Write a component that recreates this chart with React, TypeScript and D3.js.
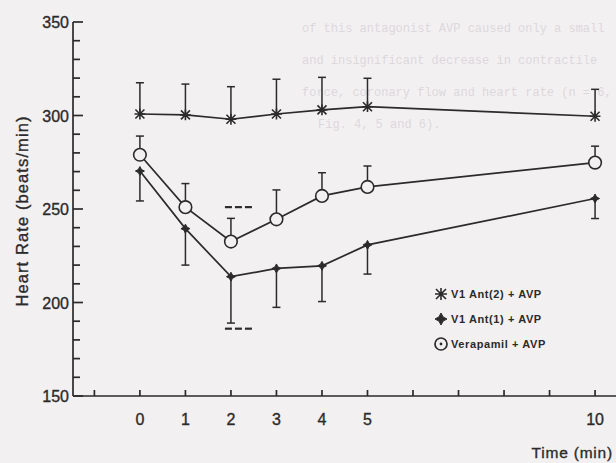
import React from "react";
import * as d3 from "d3";

const times = [0, 1, 2, 3, 4, 5, 10];
const ant2 = [300.8, 300.3, 298, 300.8, 303, 304.7, 299.6];
const ant2Err = [16.7, 16.5, 17.4, 18.6, 17.4, 15.2, 14.4];
const ant1 = [270.3, 239.5, 213.8, 218.2, 219.6, 230.8, 255.6];
const ant1Err = [16, 19.5, 24.8, 20.8, 19.1, 15.6, 10.7];
const verap = [279, 251, 232.6, 244.5, 257, 261.8, 274.8];
const verapErr = [10, 12.6, 12.4, 15.7, 12.4, 11.2, 8.8];
const xTicks = [-1, 0, 1, 2, 3, 4, 5, 6, 7, 8, 9, 10];
const xLabels = [0, 1, 2, 3, 4, 5, 10];
const yMajor = [150, 200, 250, 300, 350];
const yMinor = d3.range(150, 351, 10);
const legendLabels = ["V1 Ant(2) + AVP", "V1 Ant(1) + AVP", "Verapamil + AVP"];
const sigUpper = 251;
const sigLower = 186;
const sigTime = 2;
const bleedLines = [
  "of this antagonist AVP caused only a small",
  "and insignificant decrease in contractile",
  "force, coronary flow and heart rate (n = 6,",
  "Fig. 4, 5 and 6).",
];

const W = 616, H = 463;
const INK = "#2b2b2b";
const BG = "#f3f0f2";
const SANS = "Liberation Sans, Arial, sans-serif";

function starPath(cx: number, cy: number, s: number) {
  return `M${cx - s},${cy - s}L${cx + s},${cy + s}M${cx - s},${cy + s}L${cx + s},${cy - s}M${cx},${cy - s * 1.2}L${cx},${cy + s * 1.2}M${cx - s * 1.2},${cy}L${cx + s * 1.2},${cy}`;
}
function sparkPath(cx: number, cy: number, s: number) {
  const t = s * 0.35;
  return `M${cx},${cy - s}L${cx + t},${cy - t}L${cx + s},${cy}L${cx + t},${cy + t}L${cx},${cy + s}L${cx - t},${cy + t}L${cx - s},${cy}L${cx - t},${cy - t}Z`;
}

export default function App() {
  const x = d3.scaleLinear().domain([-1.47, 10.46]).range([73, 616]);
  const y = d3.scaleLinear().domain([150, 350]).range([396, 22]);
  const line = d3
    .line<number>()
    .x((_, i) => x(times[i]))
    .y((d) => y(d));

  const cap = 4;
  const dashes = (cy: number) => {
    const x0 = x(sigTime) - 6;
    return [0, 1, 2].map((k) => (
      <line key={k} x1={x0 + k * 10} x2={x0 + k * 10 + 7} y1={cy} y2={cy} stroke={INK} strokeWidth={2.2} />
    ));
  };

  return (
    <svg width={W} height={H} style={{ position: "absolute", left: 0, top: 0, background: BG }}>
      <rect width={W} height={H} fill={BG} />
      <g fontFamily="Liberation Mono, DejaVu Sans Mono, monospace" fontSize={12} fill="#dcd8dc">
        {bleedLines.map((t, i) => (
          <text key={i} x={i === 3 ? 318 : 302} y={32 + i * 32}>
            {t}
          </text>
        ))}
      </g>

      <g stroke={INK} strokeWidth={1.7} fill="none">
        <line x1={x.range()[0]} x2={x.range()[0]} y1={y(350)} y2={y(150)} />
        <line x1={x.range()[0]} x2={W} y1={y(150)} y2={y(150)} />
        {yMinor.map((v) => (
          <line key={v} x1={x.range()[0]} x2={x.range()[0] + (v % 50 === 0 ? 10 : 7)} y1={y(v)} y2={y(v)} />
        ))}
        {xTicks.map((t) => (
          <line key={t} x1={x(t)} x2={x(t)} y1={y(150)} y2={y(150) - 6} />
        ))}
      </g>
      <g fontFamily={SANS} fontSize={16} fill={INK} stroke={INK} strokeWidth={0.35}>
        {yMajor.map((v) => (
          <text key={v} x={x.range()[0] - 4} y={y(v) + 6} textAnchor="end">
            {v}
          </text>
        ))}
        {xLabels.map((t) => (
          <text key={t} x={x(t)} y={y(150) + 29} textAnchor="middle">
            {t}
          </text>
        ))}
        <text x={613} y={458} textAnchor="end" fontSize={15.5} letterSpacing={0.8}>Time (min)</text>
        <text
          transform={`translate(28,${211}) rotate(-90)`}
          textAnchor="middle"
          fontSize={16.5}
          letterSpacing={1.1}
        >
          Heart Rate (beats/min)
        </text>
      </g>

      <g stroke={INK} strokeWidth={1.5}>
        {times.map((t, i) => (
          <g key={"e2" + i}>
            <line x1={x(t)} x2={x(t)} y1={y(ant2[i])} y2={y(ant2[i] + ant2Err[i])} />
            <line x1={x(t) - cap} x2={x(t) + cap} y1={y(ant2[i] + ant2Err[i])} y2={y(ant2[i] + ant2Err[i])} />
            <line x1={x(t)} x2={x(t)} y1={y(verap[i])} y2={y(verap[i] + verapErr[i])} />
            <line x1={x(t) - cap} x2={x(t) + cap} y1={y(verap[i] + verapErr[i])} y2={y(verap[i] + verapErr[i])} />
            <line x1={x(t)} x2={x(t)} y1={y(ant1[i])} y2={y(ant1[i] - ant1Err[i])} />
            <line x1={x(t) - cap} x2={x(t) + cap} y1={y(ant1[i] - ant1Err[i])} y2={y(ant1[i] - ant1Err[i])} />
          </g>
        ))}
      </g>

      <g fill="none" stroke={INK} strokeWidth={1.7}>
        <path d={line(ant2) || ""} />
        <path d={line(ant1) || ""} />
        <path d={line(verap) || ""} />
      </g>

      <g stroke={INK} strokeWidth={1.6}>
        {times.map((t, i) => (
          <path key={"s" + i} d={starPath(x(t), y(ant2[i]), 4.5)} fill="none" />
        ))}
        {times.map((t, i) => (
          <path key={"d" + i} d={sparkPath(x(t), y(ant1[i]), 4.5)} fill={INK} strokeWidth={1} />
        ))}
        {times.map((t, i) => (
          <circle key={"c" + i} cx={x(t)} cy={y(verap[i])} r={6.3} fill={BG} />
        ))}
      </g>

      {dashes(y(sigUpper))}
      {dashes(y(sigLower))}

      <g>
        {legendLabels.map((lab, i) => {
          const ly = 294 + i * 25;
          const lx = 441;
          return (
            <g key={lab}>
              {i === 0 && <path d={starPath(lx, ly, 5)} stroke={INK} strokeWidth={1.6} fill="none" />}
              {i === 1 && <path d={sparkPath(lx, ly, 6)} fill={INK} stroke={INK} strokeWidth={1} />}
              {i === 2 && (
                <g>
                  <circle cx={lx} cy={ly} r={6} fill={BG} stroke={INK} strokeWidth={1.7} />
                  <circle cx={lx} cy={ly} r={1.4} fill={INK} />
                </g>
              )}
              <text
                x={lx + 10}
                y={ly + 4}
                fontFamily={SANS}
                fontSize={11}
                fontWeight="bold"
                letterSpacing={0.6}
                fill={INK}
              >
                {lab}
              </text>
            </g>
          );
        })}
      </g>
    </svg>
  );
}
